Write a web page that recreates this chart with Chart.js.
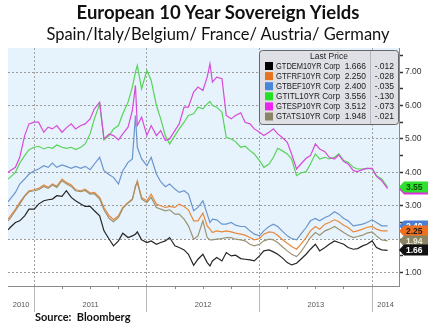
<!DOCTYPE html>
<html><head><meta charset="utf-8">
<script src="https://cdn.jsdelivr.net/npm/chart.js@4.4.1/dist/chart.umd.min.js"></script>
<style>
html,body{margin:0;padding:0;background:#fff;}
#wrap{position:relative;width:428px;height:329px;overflow:hidden;}
canvas{position:absolute;left:0;top:0;}
#title{position:absolute;left:8px;width:420px;top:1px;text-align:center;font:bold 18.5px Lato,sans-serif;line-height:1.2;color:#111;white-space:nowrap;}
#subtitle{position:absolute;left:8px;width:420px;top:25px;text-align:center;font:16.5px Lato,sans-serif;line-height:1.2;color:#111;white-space:nowrap;}
#source{position:absolute;left:35px;top:310px;font:bold 11px Lato,sans-serif;line-height:1.2;color:#111;white-space:nowrap;}
</style></head>
<body><div id="wrap"><canvas id="c" width="428" height="329"></canvas>
<div id="title">European 10 Year Sovereign Yields</div>
<div id="subtitle">Spain/Italy/Belgium/ France/ Austria/ Germany</div>
<div id="source">Source:&nbsp; Bloomberg</div></div>
<script>
const dates = ['2010-10-08','2010-10-15','2010-11-01','2010-11-15','2010-12-01','2010-12-15',
'2011-01-01','2011-01-15','2011-02-01','2011-02-15','2011-03-01','2011-03-15','2011-04-01','2011-04-15','2011-05-01','2011-05-15','2011-06-01','2011-06-15','2011-07-01','2011-07-15','2011-08-01','2011-08-15','2011-09-01','2011-09-15','2011-10-01','2011-10-15','2011-11-01','2011-11-15',
'2011-11-25','2011-12-01','2011-12-15',
'2012-01-01','2012-01-15','2012-02-01','2012-02-15','2012-03-01','2012-03-15','2012-04-01','2012-04-15','2012-05-01','2012-05-15','2012-06-01','2012-06-15','2012-07-01','2012-07-15',
'2012-07-24',
'2012-08-01','2012-08-15','2012-09-01','2012-09-15','2012-10-01','2012-10-15','2012-11-01','2012-11-15','2012-12-01','2012-12-15',
'2013-01-01','2013-01-15','2013-02-01','2013-02-15','2013-03-01','2013-03-15','2013-04-01','2013-04-15','2013-05-01','2013-05-15','2013-06-01','2013-06-15','2013-07-01','2013-07-15','2013-08-01','2013-08-15','2013-09-01','2013-09-15','2013-10-01','2013-10-15','2013-11-01','2013-11-15','2013-12-01','2013-12-15','2014-01-01','2014-01-15','2014-02-01',
'2014-02-20'];

const germany = [2.28,2.35,2.50,2.55,2.70,2.90,
2.90,3.05,3.15,3.18,3.20,3.30,3.28,3.45,3.25,3.15,3.05,2.98,2.98,2.85,2.70,2.25,2.00,1.80,1.95,2.18,2.05,2.10,
2.15,2.22,1.98,
1.90,1.95,1.85,1.90,1.95,2.05,1.80,1.75,1.68,1.55,1.22,1.40,1.55,1.30,
1.20,
1.35,1.45,1.35,1.60,1.50,1.52,1.42,1.40,1.38,1.35,
1.50,1.65,1.68,1.62,1.55,1.45,1.30,1.23,1.28,1.40,1.55,1.70,1.85,1.65,1.75,1.85,1.95,1.90,1.85,1.75,1.70,1.72,1.80,1.85,1.95,1.75,1.68,
1.666];

const france = [2.60,2.68,2.90,3.10,3.30,3.45,
3.48,3.52,3.62,3.55,3.65,3.58,3.80,3.70,3.62,3.48,3.45,3.50,3.38,3.40,3.25,2.95,2.70,2.58,2.70,2.95,3.10,3.20,
3.55,3.75,3.25,
3.15,3.35,3.05,3.00,2.95,2.98,2.95,3.05,2.98,2.88,2.55,2.55,2.78,2.40,
2.30,
2.20,2.25,2.22,2.25,2.22,2.18,2.15,2.12,2.05,1.98,
2.02,2.15,2.22,2.20,2.12,2.00,1.88,1.78,1.70,1.85,2.05,2.25,2.38,2.30,2.45,2.50,2.58,2.52,2.42,2.35,2.22,2.25,2.30,2.35,2.38,2.30,2.25,
2.250];

const belgium = [3.12,3.20,3.40,3.65,3.80,3.95,
4.05,4.10,4.20,4.15,4.28,4.15,4.22,4.18,4.12,4.18,4.12,4.18,4.08,4.25,4.45,4.05,3.93,3.85,3.65,4.05,4.30,4.40,
5.70,4.75,4.40,
4.20,4.45,3.95,3.72,3.57,3.65,3.50,3.40,3.45,3.35,2.85,2.95,3.15,2.75,
2.50,
2.60,2.58,2.45,2.45,2.50,2.42,2.38,2.38,2.25,2.15,
2.10,2.25,2.38,2.45,2.38,2.25,2.10,2.02,1.98,2.15,2.35,2.55,2.62,2.55,2.65,2.70,2.82,2.75,2.62,2.55,2.40,2.42,2.45,2.50,2.58,2.50,2.40,
2.400];

const italy = [3.80,3.85,4.00,4.28,4.50,4.68,
4.75,4.78,4.70,4.75,4.72,4.82,4.75,4.72,4.75,4.68,4.75,4.85,5.15,5.60,6.05,4.97,5.10,5.30,5.40,5.75,6.10,6.55,
7.00,7.20,6.50,
7.05,6.75,6.00,5.60,5.10,4.85,5.10,5.30,5.50,5.70,5.75,5.95,5.90,6.05,
6.12,
6.00,5.95,5.80,5.05,5.00,4.92,4.75,4.78,4.65,4.55,
4.35,4.15,4.25,4.45,4.72,4.65,4.55,4.40,3.90,3.98,4.02,4.25,4.55,4.40,4.45,4.40,4.45,4.55,4.35,4.30,4.15,4.10,4.10,4.12,4.10,3.90,3.80,
3.556];

const spain = [4.00,4.05,4.15,4.45,5.10,5.45,
5.50,5.50,5.20,5.35,5.30,5.40,5.20,5.33,5.45,5.30,5.40,5.45,5.60,5.90,6.10,5.00,5.15,5.10,4.97,5.15,5.35,5.85,
6.60,5.40,5.65,
5.10,5.40,5.10,5.25,4.95,5.00,5.25,5.45,5.95,5.95,6.40,6.55,6.45,6.85,
7.25,
6.70,6.85,6.80,5.70,5.60,5.70,5.78,5.50,5.45,5.30,
5.20,5.10,5.20,5.30,5.15,5.05,4.90,4.55,4.10,4.25,4.42,4.50,4.85,4.70,4.62,4.45,4.40,4.52,4.32,4.25,4.05,4.02,4.08,4.12,4.12,3.88,3.75,
3.512];

const austria = [2.55,2.62,2.85,3.05,3.28,3.42,
3.45,3.48,3.58,3.52,3.62,3.55,3.75,3.66,3.58,3.45,3.42,3.46,3.35,3.36,3.20,2.88,2.62,2.52,2.65,2.92,3.08,3.18,
3.60,3.70,3.20,
3.10,3.25,2.95,2.90,2.85,2.88,2.75,2.75,2.60,2.40,2.00,2.10,2.55,2.05,
1.98,
1.98,2.00,2.02,2.05,2.05,2.00,1.98,1.95,1.85,1.80,
1.85,1.95,2.00,1.98,1.90,1.78,1.65,1.55,1.48,1.62,1.85,2.05,2.20,2.12,2.25,2.30,2.38,2.30,2.20,2.12,2.05,2.08,2.12,2.18,2.22,2.10,1.98,
1.948];

const tickers   = ['GTDEM10YR Corp','GTFRF10YR Corp','GTBEF10YR Corp','GTITL10YR Corp','GTESP10YR Corp','GTATS10YR Corp'];
const lastPrice = [1.666, 2.250, 2.400, 3.556, 3.512, 1.948];
const netChange = [-0.012, -0.028, -0.035, -0.130, -0.073, -0.021];
const legendTitle = 'Last Price';
const yearLabels = ['2010','2011','2012','2013','2014'];
const yearBounds = [2011, 2012, 2013, 2014];
const quarterMarks = [2011.25,2011.5,2011.75,2012.25,2012.5,2012.75,2013.25,2013.5,2013.75];
const yTicks = [1,1.5,2,2.5,3,3.5,4,4.5,5,5.5,6,6.5,7,7.5];
const axisStart = '2010-10-08', axisEnd = '2014-03-29';
const yMin = 0.6, yMax = 7.72, shadeFloor = 2;

const seriesValues = [germany, france, belgium, italy, spain, austria];
const lineColors = ['#262626','#e8883a','#6a95cc','#55d455','#d84ad8','#9c9272'];
const keyColors  = ['#000000','#e8731e','#4a86d8','#22e022','#ee22ee','#8a8466'];
const tagColors  = ['#111111','#f07020','#4a7fd4','#2fe02f','#e030e0','#8a8462'];
const tagText    = ['#ffffff','#1a1a1a','#ffffff','#0d4d0d','#ffffff','#e8e8d8'];
const drawOrder  = [4,3,5,2,1,0];

function toYear(s){const p=s.split('-').map(Number);const a=Date.UTC(p[0],0,1),b=Date.UTC(p[0]+1,0,1);return p[0]+(Date.UTC(p[0],p[1]-1,p[2])-a)/(b-a);}
const xMin = toYear(axisStart), xMax = toYear(axisEnd);
const FONT = '"Liberation Sans", Arial, sans-serif';

const datasets = seriesValues.map((vals,k)=>({
  label: tickers[k],
  data: dates.map((d,i)=>({x:toYear(d), y:vals[i]})),
  borderColor: lineColors[k], backgroundColor: lineColors[k],
  borderWidth: 1.2, pointRadius: 0, tension: 0, fill:false,
  order: drawOrder[k]
}));

const bgPlugin = {id:'bg', beforeDraw(chart){
  const {ctx, chartArea:a, scales:{y}} = chart;
  const yb = y.getPixelForValue(shadeFloor);
  ctx.save(); ctx.fillStyle = '#e6f3fc'; ctx.fillRect(a.left, a.top, a.right-a.left, yb-a.top); ctx.restore();
}};

const tagPlugin = {id:'tags', afterDraw(chart){
  const {ctx, chartArea:a, scales:{y}} = chart;
  const order = [4,3,2,1,5,0];
  ctx.save();
  order.forEach(k=>{
    const v = lastPrice[k];
    const cy = Math.round(y.getPixelForValue(v));
    const x0 = a.right, h = 11;
    ctx.fillStyle = tagColors[k];
    ctx.beginPath(); ctx.moveTo(x0, cy); ctx.lineTo(x0+5, cy-h/2); ctx.lineTo(428, cy-h/2); ctx.lineTo(428, cy+h/2); ctx.lineTo(x0+5, cy+h/2); ctx.closePath(); ctx.fill();
    ctx.fillStyle = tagText[k]; ctx.font = 'bold 8.5px '+FONT; ctx.textBaseline='middle'; ctx.textAlign='left';
    ctx.fillText((Math.floor(v*100)/100).toFixed(2), x0+7, cy+0.5);
  });
  ctx.restore();
}};

const legendPlugin = {id:'keybox', afterDraw(chart){
  const ctx = chart.ctx;
  const bx=259, by=50, bw=139, bh=74;
  ctx.save();
  ctx.fillStyle='#dfe0e6'; ctx.strokeStyle='#666';ctx.lineWidth=1;
  ctx.beginPath(); ctx.roundRect(bx+0.5,by+0.5,bw,bh,3); ctx.fill(); ctx.stroke();
  ctx.strokeStyle='#b4b6c0'; ctx.beginPath(); ctx.moveTo(370.5,by+1); ctx.lineTo(370.5,by+bh); ctx.stroke();
  ctx.fillStyle='#222'; ctx.font='8.5px '+FONT; ctx.textBaseline='middle'; ctx.textAlign='center';
  ctx.fillText(legendTitle, 329, 57);
  tickers.forEach((t,k)=>{
    const cy = 66 + k*10.1;
    ctx.fillStyle = keyColors[k]; ctx.fillRect(265, cy-4, 8, 8);
    ctx.fillStyle='#1a1a1a'; ctx.textAlign='left'; ctx.font='8.5px '+FONT;
    ctx.fillText(t, 276, cy+0.5, 64);
    ctx.textAlign='right';
    ctx.fillText(lastPrice[k].toFixed(3), 366, cy+0.5);
    const c = netChange[k];
    ctx.fillText((c<0?'-':'')+Math.abs(c).toFixed(3).replace(/^0/,''), 394, cy+0.5);
  });
  ctx.restore();
}};

new Chart(document.getElementById('c'), {
  type:'line',
  data:{datasets},
  options:{
    responsive:false, animation:false, devicePixelRatio:1,
    layout:{padding:{left:8, top:48, right:0, bottom:15}},
    plugins:{legend:{display:false}, tooltip:{enabled:false}},
    scales:{
      x:{type:'linear', position:'bottom', min:xMin, max:xMax, weight:0,
         afterBuildTicks:s=>{s.ticks=yearBounds.map(v=>({value:v}));},
         ticks:{display:false},
         grid:{color:'#a2a2a2', drawOnChartArea:true, drawTicks:true, tickLength:26, tickColor:'#b8b8b8', tickWidth:1, tickBorderDash:[]},
         border:{display:true, color:'#8a8a8a', dash:[2,2]},
         afterFit:s=>{s.height=0;}},
      xq:{type:'linear', position:'bottom', min:xMin, max:xMax, weight:0,
         afterBuildTicks:s=>{s.ticks=quarterMarks.map(v=>({value:v}));},
         ticks:{display:false},
         grid:{drawOnChartArea:false, drawTicks:true, tickLength:3, tickColor:'#888'},
         border:{display:false},
         afterFit:s=>{s.height=0;}},
      xl:{type:'linear', position:'bottom', min:xMin, max:xMax, weight:1,
         afterBuildTicks:s=>{
           const pos=[(xMin+yearBounds[0])/2];
           for(let i=0;i<yearBounds.length-1;i++) pos.push((yearBounds[i]+yearBounds[i+1])/2);
           pos.push((yearBounds[yearBounds.length-1]+xMax)/2);
           s.ticks=pos.map(v=>({value:v}));},
         ticks:{autoSkip:false, maxRotation:0, padding:6, color:'#555', font:{size:7.5, family:FONT}, callback:(v,i)=>yearLabels[i]},
         grid:{display:false}, border:{display:false},
         afterFit:s=>{s.height=28;}},
      y:{position:'right', min:yMin, max:yMax,
         afterBuildTicks:s=>{s.ticks=yTicks.map(v=>({value:v}));},
         ticks:{padding:2, color:'#333', font:{size:8.5, family:FONT}, callback:v=>Number.isInteger(v)?v.toFixed(2):''},
         grid:{color:c=>(c.tick&&Number.isInteger(c.tick.value))?'#9a9a9a':'rgba(0,0,0,0)', tickLength:4, tickColor:'#333', tickWidth:1.5, tickBorderDash:[]},
         border:{display:true, color:'#8a8a8a', dash:[2,2]},
         afterFit:s=>{s.width=29;}}
    }
  },
  plugins:[bgPlugin, tagPlugin, legendPlugin]
});
</script>
</body></html>
